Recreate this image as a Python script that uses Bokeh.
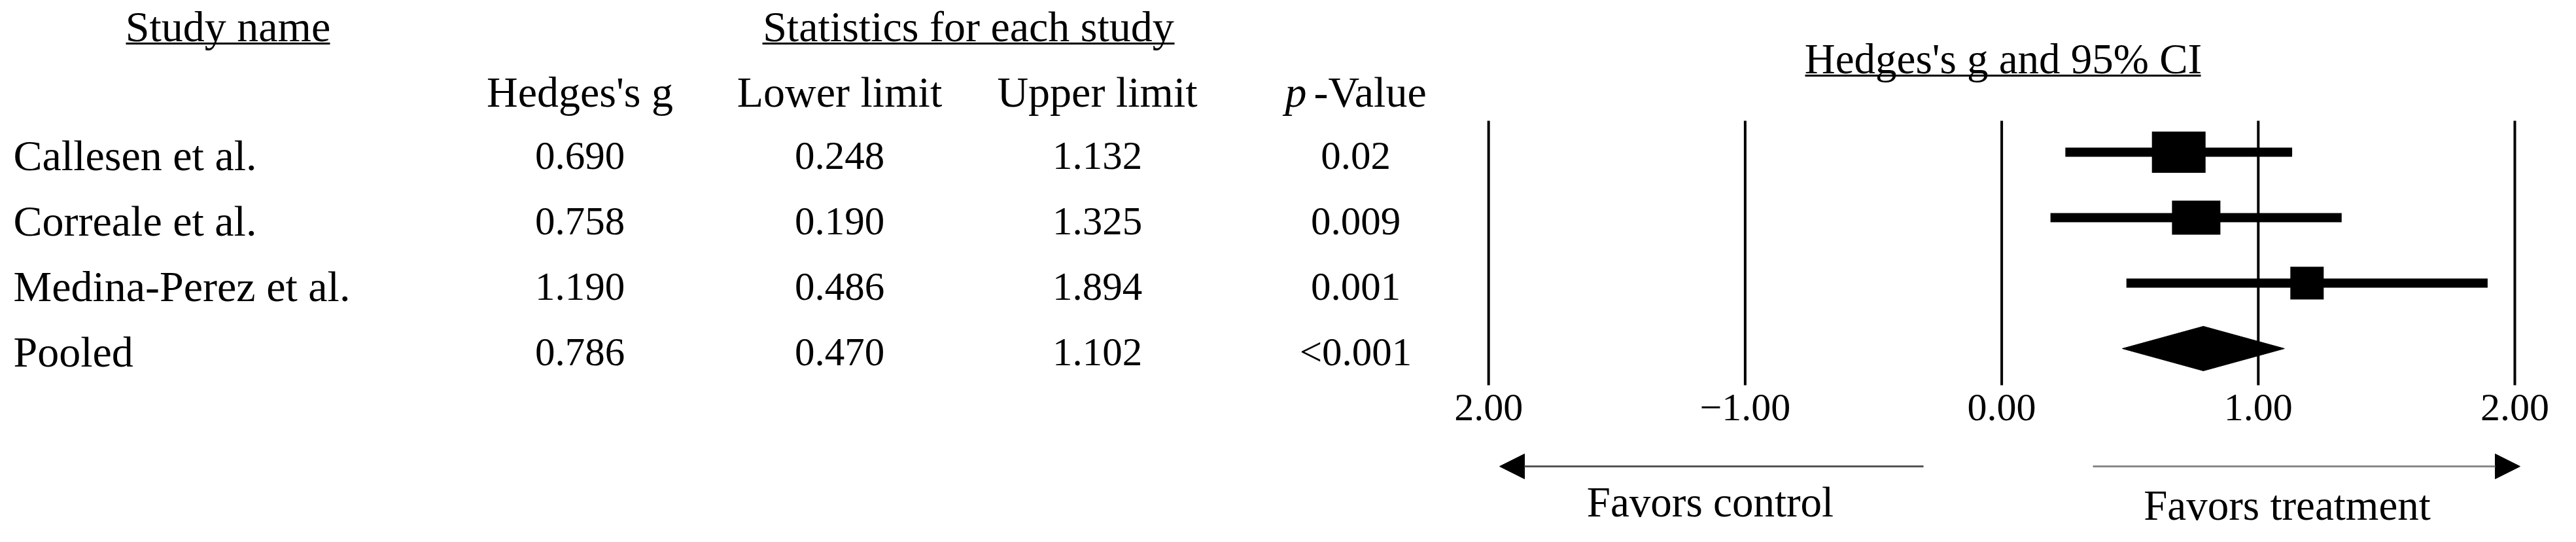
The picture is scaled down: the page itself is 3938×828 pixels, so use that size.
from bokeh.plotting import figure
from bokeh.models import Range1d, ColumnDataSource, Arrow, NormalHead
from bokeh.core.properties import value
from bokeh.embed import file_html
from bokeh.resources import INLINE

# ---------------- data ----------------
studies = ["Callesen et al.", "Correale et al.", "Medina-Perez et al.", "Pooled"]
hedges_g = [0.690, 0.758, 1.190, 0.786]
lower_limit = [0.248, 0.190, 0.486, 0.470]
upper_limit = [1.132, 1.325, 1.894, 1.102]
p_values = ["0.02", "0.009", "0.001", "<0.001"]
tick_values = [-2, -1, 0, 1, 2]
tick_labels = ["2.00", "\u22121.00", "0.00", "1.00", "2.00"]

# ---------------- styling ----------------
FONT = value("Liberation Serif")
W, H = 3922, 812
WORD_SIZE = "66px"
NUM_SIZE = "61px"
FOREST_SIZE = "65px"
TICK_SIZE = "60px"
box_w_px = [82, 74, 51]
box_h_px = [63, 52, 50]
TEXT_SHIFT = -0.18   # baseline correction (row units, 1 row = 100 px)

rows = list(range(len(studies)))
n_studies = len(studies) - 1  # last row is pooled

p = figure(width=W, height=H, x_range=Range1d(0, W), y_range=Range1d(5.80, -2.32),
           output_backend="svg", toolbar_location=None, min_border=0,
           x_axis_location=None, y_axis_location=None)
p.grid.visible = False
p.outline_line_color = None
p.background_fill_color = "white"
p.border_fill_color = "white"
# effect-size scale for the forest part
p.extra_x_ranges = {"es": Range1d(-7.801, 2.1989)}

def txt(x, y, text, size, align="center", style="normal", x_range_name="default"):
    p.text(x=x, y=[v + TEXT_SHIFT for v in y], text=text, text_font=FONT, text_font_size=size,
           text_align=align, text_baseline="alphabetic", text_color="black",
           text_font_style=style, x_range_name=x_range_name)

# ---------------- table ----------------
txt([348], [-1.74], ["Study name"], WORD_SIZE)
txt([1480], [-1.74], ["Statistics for each study"], WORD_SIZE)
p.segment(x0=[192, 1165], x1=[504, 1795], y0=[-1.66, -1.66], y1=[-1.66, -1.66],
          line_color="black", line_width=3)

txt([886, 1283, 1677], [-0.74] * 3, ["Hedges's g", "Lower limit", "Upper limit"], WORD_SIZE)
txt([1964], [-0.74], ["p"], WORD_SIZE, align="left", style="italic")
txt([2008], [-0.74], ["-Value"], WORD_SIZE, align="left")

ty = [r + 0.23 for r in rows]
txt([20] * len(rows), ty, studies, WORD_SIZE, align="left")
txt([886] * len(rows), ty, [f"{v:.3f}" for v in hedges_g], NUM_SIZE)
txt([1283] * len(rows), ty, [f"{v:.3f}" for v in lower_limit], NUM_SIZE)
txt([1677] * len(rows), ty, [f"{v:.3f}" for v in upper_limit], NUM_SIZE)
txt([2072] * len(rows), ty, p_values, NUM_SIZE)

# ---------------- forest plot ----------------
txt([3062], [-1.25], ["Hedges's g and 95% CI"], FOREST_SIZE)
p.segment(x0=[2759], x1=[3364], y0=[-1.17], y1=[-1.17], line_color="black", line_width=3)

p.segment(x0=tick_values, x1=tick_values, y0=[-0.48] * len(tick_values),
          y1=[3.56] * len(tick_values), line_color="black", line_width=4, x_range_name="es")
txt(tick_values, [4.08] * len(tick_values), tick_labels, TICK_SIZE, x_range_name="es")

src = ColumnDataSource(dict(g=hedges_g[:n_studies], lo=lower_limit[:n_studies],
                            up=upper_limit[:n_studies], y=rows[:n_studies],
                            bw=box_w_px, bh=box_h_px))
p.segment(x0="lo", x1="up", y0="y", y1="y", source=src, line_color="black",
          line_width=14, x_range_name="es")
p.rect(x="g", y="y", width="bw", height="bh", width_units="screen", height_units="screen",
       source=src, fill_color="black", line_color=None, x_range_name="es")

pr = rows[-1]
p.patch(x=[lower_limit[-1], hedges_g[-1], upper_limit[-1], hedges_g[-1]],
        y=[pr, pr - 0.34, pr, pr + 0.34], fill_color="black", line_color="black",
        x_range_name="es")

# favour arrows
p.add_layout(Arrow(end=NormalHead(size=38, fill_color="black", line_color="black"),
                   x_start=2940, y_start=4.80, x_end=2292, y_end=4.80,
                   line_color="#555555", line_width=3))
p.add_layout(Arrow(end=NormalHead(size=38, fill_color="black", line_color="black"),
                   x_start=3199, y_start=4.80, x_end=3852, y_end=4.80,
                   line_color="#888888", line_width=3))
txt([2614], [5.52], ["Favors control"], FOREST_SIZE)
txt([3496], [5.57], ["Favors treatment"], FOREST_SIZE)

open("out.html", "w").write(file_html(p, INLINE))
